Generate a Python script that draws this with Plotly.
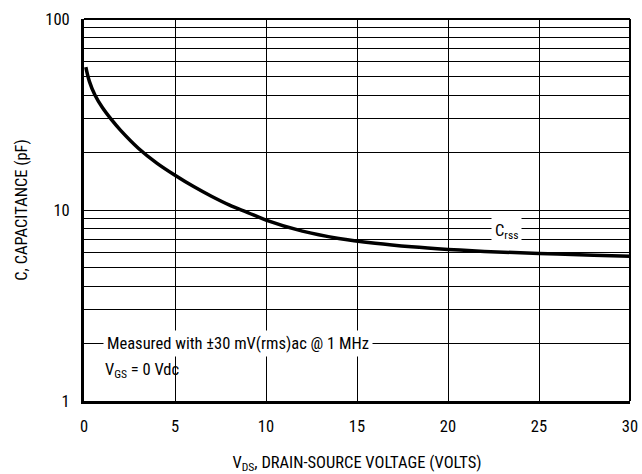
import plotly.graph_objects as go

vds = [0.1, 0.3, 0.6, 1, 1.5, 2, 3, 4, 5, 6, 7, 8, 9, 10, 12, 14, 16, 18, 20, 22, 25, 28, 30]
crss = [56, 47, 40, 34.5, 29.8, 26.2, 21, 17.6, 15.2, 13.3, 11.8, 10.6, 9.7, 8.85, 7.75, 7.1, 6.7, 6.42, 6.22, 6.07, 5.92, 5.8, 5.72]

x_ticks = [0, 5, 10, 15, 20, 25, 30]
y_grid = [m * d for d in (1, 10) for m in range(1, 10)] + [100]
y_labels = {1: "1", 10: "10", 100: "100"}

FONT = "Liberation Sans Narrow, Arial Narrow, Roboto Condensed, Liberation Sans, sans-serif"
FS = 16.5

fig = go.Figure()
fig.add_trace(go.Scatter(x=vds, y=crss, mode="lines", line=dict(color="black", width=3.5, shape="spline", smoothing=1.0),
                         showlegend=False, hoverinfo="skip"))

fig.update_layout(
    width=642, height=474,
    margin=dict(l=84, r=12, t=19, b=73),
    paper_bgcolor="white", plot_bgcolor="white",
    font=dict(family=FONT, size=FS, color="black"),
    xaxis=dict(range=[0, 30], tickvals=x_ticks, ticktext=[str(v) for v in x_ticks],
               showgrid=True, gridcolor="black", gridwidth=1.3, zeroline=False,
               showline=True, linecolor="black", linewidth=3,
               ticks="outside", ticklen=8, tickcolor="rgba(0,0,0,0)",
               tickfont=dict(size=FS), automargin=False,
               title=dict(text="V<sub>DS</sub>, DRAIN-SOURCE VOLTAGE (VOLTS)", font=dict(size=FS), standoff=23)),
    yaxis=dict(type="log", range=[0, 2], tickvals=y_grid,
               ticktext=[y_labels.get(v, "") for v in y_grid],
               showgrid=True, gridcolor="black", gridwidth=1.3, zeroline=False,
               showline=True, linecolor="black", linewidth=3,
               ticks="outside", ticklen=8, tickcolor="rgba(0,0,0,0)",
               tickfont=dict(size=FS), automargin=False,
               title=dict(text="C, CAPACITANCE (pF)", font=dict(size=FS), standoff=14)),
)

# top and right frame lines
fig.add_shape(type="line", xref="paper", yref="paper", x0=0, x1=1, y0=1, y1=1, line=dict(color="black", width=2))
fig.add_shape(type="line", xref="paper", yref="paper", x0=1, x1=1, y0=0, y1=1, line=dict(color="black", width=2))

fig.add_annotation(x=23.2, y=0.886, xref="x", yref="y", text="C<sub>rss</sub>", showarrow=False,
                   bgcolor="white", font=dict(size=FS), borderpad=3)
fig.add_annotation(x=1.05, y=0.302, xref="x", yref="y", xanchor="left", text="Measured with ±30 mV(rms)ac @ 1 MHz",
                   showarrow=False, bgcolor="white", font=dict(size=FS), borderpad=3)
fig.add_annotation(x=1.05, y=0.16, xref="x", yref="y", xanchor="left", text="V<sub>GS</sub> = 0 Vdc",
                   showarrow=False, font=dict(size=FS))

fig.write_html("out.html")
